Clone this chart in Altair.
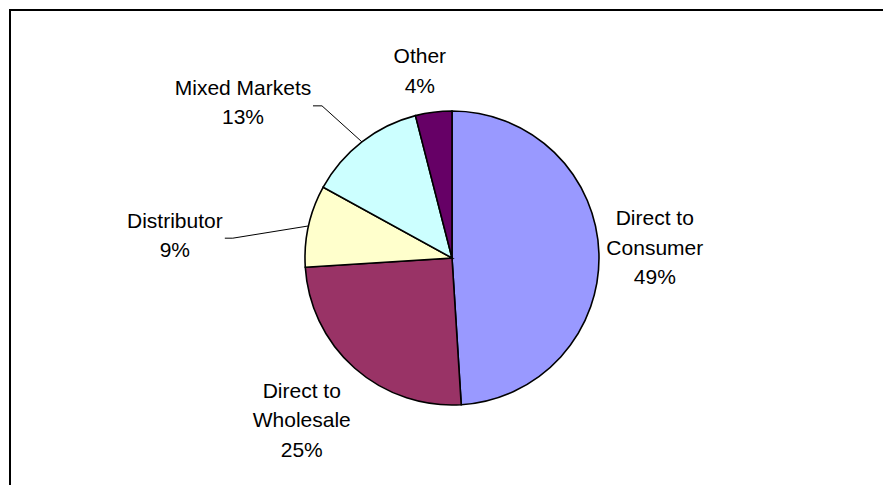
import math
import altair as alt
import pandas as pd

# ---- data ----
categories = ["Direct to Consumer", "Direct to Wholesale", "Distributor", "Mixed Markets", "Other"]
values = [49, 25, 9, 13, 4]
label_names = [["Direct to", "Consumer"], ["Direct to", "Wholesale"], ["Distributor"], ["Mixed Markets"], ["Other"]]
colors = ["#9999FF", "#993366", "#FFFFCC", "#CCFFFF", "#660066"]

# ---- layout ----
W, H = 883, 485
CX, CY, R = 452, 258, 147
LH = 29.5
label_radius = [203, 222, 278, 260, 189]
label_nudge = [-0.8, 1.2, -8.2, -15.7, -2.6]  # degrees
leader_for = {"Distributor": (58, 50, 1.5), "Mixed Markets": (79, 70, 2.5)}

total = sum(values)
cum = 0
mids = []
for v in values:
    mids.append((cum + v / 2) / total * 360)
    cum += v

pie_df = pd.DataFrame({"category": categories, "value": values, "idx": list(range(len(values)))})

lab_rows = []
lead_rows = []
for i, (c, v) in enumerate(zip(categories, values)):
    a = math.radians(mids[i] + label_nudge[i])
    lx = CX + label_radius[i] * math.sin(a)
    ly = CY - label_radius[i] * math.cos(a)
    lines = label_names[i] + [f"{v}%"]
    # first line sits at y; shift so the block is centred on the label point
    ty = ly - (len(lines) - 1) * LH / 2
    lab_rows.append({"category": c, "txt": lines, "lx": lx, "ly": ty})
    if c in leader_for:
        ex, tx, oy = leader_for[c]
        am = math.radians(mids[i])
        pts = [(CX + R * math.sin(am), CY - R * math.cos(am)), (lx + ex, ly + oy), (lx + tx, ly + oy)]
        for k, (px, py) in enumerate(pts):
            lead_rows.append({"category": c, "ord": k, "px": px, "py": py})

lab_df = pd.DataFrame(lab_rows)
lead_df = pd.DataFrame(lead_rows)

arc = alt.Chart(pie_df).mark_arc(radius=R, stroke="black", strokeWidth=1.6).encode(
    theta=alt.Theta("value:Q", stack=True),
    color=alt.Color("category:N", scale=alt.Scale(domain=categories, range=colors), legend=None),
    order=alt.Order("idx:Q"),
    x=alt.value(CX),
    y=alt.value(CY),
)

text = alt.Chart(lab_df).mark_text(
    font="Liberation Sans", fontSize=21, lineHeight=LH, align="center", baseline="middle", color="black"
).encode(
    x=alt.X("lx:Q", scale=None, axis=None),
    y=alt.Y("ly:Q", scale=None, axis=None),
    text=alt.Text("txt"),
)

leaders = alt.Chart(lead_df).mark_line(color="black", strokeWidth=1).encode(
    x=alt.X("px:Q", scale=None, axis=None),
    y=alt.Y("py:Q", scale=None, axis=None),
    detail="category:N",
    order="ord:Q",
)

border = alt.Chart(pd.DataFrame({"a": [0]})).mark_rect(fill="transparent", stroke="black", strokeWidth=2).encode(
    x=alt.value(10), x2=alt.value(W + 20), y=alt.value(10), y2=alt.value(H + 20)
)

chart = alt.layer(arc, leaders, text, border).properties(
    width=W, height=H, autosize=alt.AutoSizeParams(type="none"), padding=0, background="white"
).configure_view(strokeWidth=0)

chart.save("out.html", embed_options={"renderer": "svg", "actions": False})
